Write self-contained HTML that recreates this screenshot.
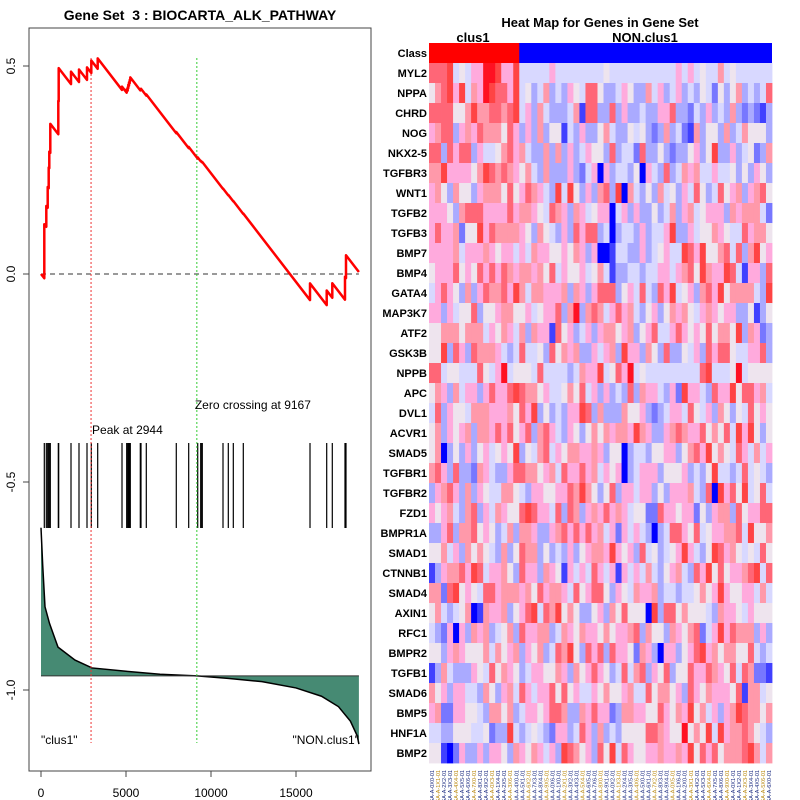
<!DOCTYPE html>
<html><head><meta charset="utf-8"><style>
body{margin:0;background:#fff;}
svg{display:block;font-family:"Liberation Sans",sans-serif;}
</style></head><body>
<svg id="chart" width="800" height="800" viewBox="0 0 800 800">
<rect width="800" height="800" fill="#fff"/>
<text x="200" y="20" text-anchor="middle" font-size="14" font-weight="bold">Gene Set &#160;3 : BIOCARTA_ALK_PATHWAY</text>
<rect x="29" y="28" width="342" height="743" fill="none" stroke="#444" stroke-width="1"/>
<g id="left"></g>
<text x="600" y="27" text-anchor="middle" font-size="13" font-weight="bold">Heat Map for Genes in Gene Set</text>
<text x="473" y="42" text-anchor="middle" font-size="13" font-weight="bold">clus1</text>
<text x="645" y="42" text-anchor="middle" font-size="13" font-weight="bold">NON.clus1</text>
<g id="heat"></g>
</svg>
<script>
const N = 18700;
const missPenalty = 0.000053;
const hitRanks = [194,312,394,453,488,547,1018,1041,1765,2235,2706,2959,3335,4765,5041,5100,5135,5176,5218,5253,5841,5882,6194,7958,8688,9218,9394,9453,9488,10706,11018,11312,11900,15824,16806,17135,17882,17941];
const hitSteps = [0.13,0.05,0.05,0.05,0.04,0.07,0.08,0.08,0.03,0.03,0.03,0.03,0.025,0.008,0.008,0.008,0.008,0.008,0.008,0.008,0.003,0.003,0.003,0.003,0.003,0.003,0.001,0.001,0.001,0.001,0.001,0.001,0.001,0.04,0.035,0.035,0.055,0.055];
const metricRanks = [0,100,235,500,1000,2000,3000,5000,7000,9167,11000,13000,15000,16500,17500,18200,18600,18700];
const metricValues = [-0.61,-0.70,-0.80,-0.84,-0.897,-0.928,-0.947,-0.955,-0.962,-0.966,-0.972,-0.98,-0.995,-1.015,-1.04,-1.075,-1.11,-1.13];
const peakRank = 2944, zeroRank = 9167;
const xTicks = [0,5000,10000,15000];
const yTicks = [0.5,0.0,-0.5,-1.0];
const yTickLabels = ["0.5","0.0","-0.5","-1.0"];

const NS = "http://www.w3.org/2000/svg";
const X = r => 41 + r * 0.017;
const Y = v => 274 - v * 416;
const left = document.getElementById('left');
function mk(tag, attrs, parent){const e=document.createElementNS(NS,tag);for(const k in attrs)e.setAttribute(k,attrs[k]);(parent||left).appendChild(e);return e;}

let d = "M"+X(metricRanks[0])+","+Y(-0.966);
metricRanks.forEach((r,i)=>{d+=" L"+X(r)+","+Y(metricValues[i]);});
d += " L"+X(metricRanks[metricRanks.length-1])+","+Y(-0.966)+" Z";
let area = mk('path',{d:d,fill:'#468a73',stroke:'none'});


let ml = mk('polyline',{points:metricRanks.map((r,i)=>X(r)+","+Y(metricValues[i])).join(" "),fill:'none',stroke:'#000','stroke-width':1.5});


let bl = mk('line',{x1:X(0),x2:X(N),y1:Y(-0.966),y2:Y(-0.966),stroke:'#333','stroke-width':1});



hitRanks.forEach(r=>{
  const t = mk('line',{x1:X(r),x2:X(r),y1:443,y2:528,stroke:'#000','stroke-width':1.2});
  
  
});

let z = mk('line',{x1:X(0),x2:X(N),y1:Y(0),y2:Y(0),stroke:'#333','stroke-dasharray':'5,4','stroke-width':1});



let pk = mk('line',{x1:X(peakRank),x2:X(peakRank),y1:58,y2:743,stroke:'#e33','stroke-dasharray':'2,2','stroke-width':1});


let zc = mk('line',{x1:X(zeroRank),x2:X(zeroRank),y1:58,y2:743,stroke:'#3c3','stroke-dasharray':'2,2','stroke-width':1});



let pts = [[0,0]]; let es = 0; let prev = 0;
hitRanks.forEach((r,i)=>{
  es -= (r-prev)*missPenalty; pts.push([r,es]);
  es += hitSteps[i]; pts.push([r,es]); prev = r;
});
es -= (N-prev)*missPenalty; pts.push([N,es]);
let esl = mk('polyline',{points:pts.map(p=>X(p[0])+","+Y(p[1])).join(" "),fill:'none',stroke:'#f00','stroke-width':2.5,'stroke-linejoin':'round'});



let tp = mk('text',{x:X(peakRank)+1,y:434,'font-size':12});
tp.textContent = "Peak at " + peakRank;


let tz = mk('text',{x:X(zeroRank)-2,y:409,'font-size':12});
tz.textContent = "Zero crossing at " + zeroRank;


let c1 = mk('text',{x:41,y:744,'font-size':12});
c1.textContent = '"clus1"';


let c2 = mk('text',{x:359,y:744,'font-size':12,'text-anchor':'end'});
c2.textContent = '"NON.clus1"';



xTicks.forEach(v=>{
  const tk = mk('line',{x1:X(v),x2:X(v),y1:771,y2:777,stroke:'#444'});
  
  
  const tl = mk('text',{x:X(v),y:797,'font-size':12,'text-anchor':'middle'});
  tl.textContent = v;
  
  
});
yTicks.forEach((v,i)=>{
  const tk = mk('line',{x1:23,x2:29,y1:Y(v),y2:Y(v),stroke:'#444'});
  
  
  const tl = mk('text',{x:0,y:0,'font-size':12,'text-anchor':'middle',transform:'translate(15,'+Y(v)+') rotate(-90)'});
  tl.textContent = yTickLabels[i];
  
  
});

const genes = ["MYL2","NPPA","CHRD","NOG","NKX2-5","TGFBR3","WNT1","TGFB2","TGFB3","BMP7","BMP4","GATA4","MAP3K7","ATF2","GSK3B","NPPB","APC","DVL1","ACVR1","SMAD5","TGFBR1","TGFBR2","FZD1","BMPR1A","SMAD1","CTNNB1","SMAD4","AXIN1","RFC1","BMPR2","TGFB1","SMAD6","BMP5","HNF1A","BMP2"];
const nClus1 = 15;
const nNon = 42;
const levels = [
"888945466aa9669444446444444445444444444446464544745444444",
"578969476a98869453473436548853346533746346343542535734348",
"888855797788789463743334718833836334336683324363437323213",
"678836768777586363735514363357433545323734217355373475553",
"883868836445786743373736346553834428335323356359336345237",
"779666657987876574373336324606344350643834767446445353653",
"675375536777585687643949536378390743537453648534856736785",
"666537888666686776548763764566046363353473674566637677742",
"686672559687777653754363868834034436344693364557654486775",
"666674666765664647665565763600144336345644986955784837956",
"566685658686876776758465564574133443446646785976698416638",
"468653736877869747766673763688835648438694563786957777439",
"663645583556775564566837a3787468674356357675467656633513",
"557775777465764737661856346367756735684468656585775937623",
"559386387776434844538576733646739663753833546386885446683",
"884554448546a45554844443476694586a45444444444894445a45555",
"576374663686689877564457584636343837664362966438669588674",
"483655477766675869353436698373337556323466485463753548565",
"573656737768685683786436535757677697633678766857584969535",
"570353635645659354784657766763550344355663578695754864746",
"786383327643368877567486686746560346663555634359443484543",
"367863736544775436655668797535836646635366674380968594584",
"656743783647655898664838736768676455228665662536773856688",
"336837785653473776336786868674626464303488658456677849557",
"5574637575437358773534363567769656384534569643598675454856",
"136778698466753866376516464864616464743567438695856678948",
"7728956548867776758677648568853654766734434457569655664745",
"574345701766735689487957533563758555093885755543766546555",
"4326063767345738667734765766575667837553765782469687773636",
"553676555747567365734879538683866527630663568967577558434",
"1374333654857653466557637568653484783658355866876584872218",
"7563664437536748646685856446575567448577563865766658177453",
"6722665543775734665688733768662377665586576957463679877572",
"443355544523394345432663486373435555887655a57594967787543",
"551026336366537657646398756385948655667667695868577789747"
];
const palette = {'0':'#0000ff','1':'#4040ff','2':'#7777ff','3':'#aaaaff','4':'#d8d8ff','5':'#eee4ee','6':'#ffaadd','7':'#ff99aa','8':'#ff6677','9':'#ff4444','a':'#ff1122'};
const heat = document.getElementById('heat');
const hx0 = 429, hx1 = 772, hy0 = 43, rowH = 20;
const nCols = nClus1 + nNon;
const cw = (hx1 - hx0) / nCols;
const Cx = c => hx0 + c * cw;
const Ry = r => hy0 + r * rowH;
function hk(tag, attrs){const e=document.createElementNS(NS,tag);for(const k in attrs)e.setAttribute(k,attrs[k]);heat.appendChild(e);return e;}

let cr = hk('rect',{x:Cx(0),y:Ry(0),width:cw*nClus1+0.5,height:rowH,fill:'#ff0000'});


let cb = hk('rect',{x:Cx(nClus1),y:Ry(0),width:cw*nNon,height:rowH,fill:'#0000ff'});


let cl = hk('text',{x:427,y:Ry(0)+14,'font-size':11,'font-weight':'bold','text-anchor':'end'});
cl.textContent = "Class";



genes.forEach((g,gi)=>{
  const row = levels[gi];
  for(let c=0;c<nCols;c++){
    const ch = row[c] || '5';
    const cell = hk('rect',{x:Cx(c),y:Ry(gi+1),width:cw+0.4,height:rowH+0.4,fill:palette[ch]||'#eee4ee'});
    
    
  }
  const lab = hk('text',{x:427,y:Ry(gi+1)+14,'font-size':11,'font-weight':'bold','text-anchor':'end'});
  lab.textContent = g;
  
  
});

for(let c=0;c<nCols;c++){
  const t = hk('text',{x:0,y:0,'font-size':5.5,fill:(c%3==1?'#b8860b':'#1a2a80'),transform:'translate('+(Cx(c)+cw/2+2)+',770) rotate(-90)','text-anchor':'end'});
  t.textContent = "TCGA-A-" + (c%10) + "X" + (c%7) + "-01";
  
  
}
</script>
</body></html>
